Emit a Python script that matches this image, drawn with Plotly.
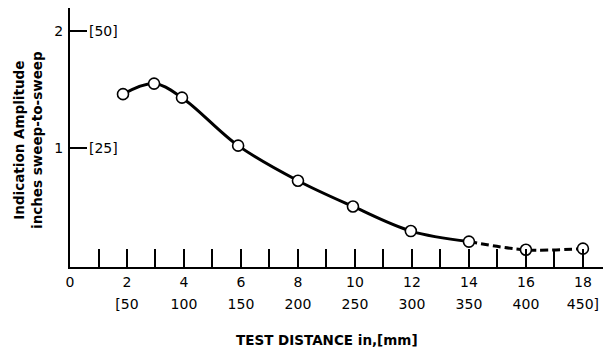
import plotly.graph_objects as go

# data
dist_in = [1.86, 2.95, 3.93, 5.9, 8.0, 9.93, 11.96, 14.0, 16.0, 18.0]
amplitude = [1.46, 1.55, 1.43, 1.02, 0.72, 0.50, 0.29, 0.20, 0.13, 0.14]
solid_n = 8  # points 0..7 on solid curve, 7..9 on dashed extrapolation

x_ticks = list(range(0, 19))
x_labels_in = [str(v) if v % 2 == 0 else "" for v in x_ticks]
mm_ticks = [2, 4, 6, 8, 10, 12, 14, 16, 18]
mm_labels = ["[50", "100", "150", "200", "250", "300", "350", "400", "450]"]
y_ticks = [1, 2]
y_labels = ["1", "2"]
y_mm_labels = ["[25]", "[50]"]

FONT = "DejaVu Sans"

fig = go.Figure()
fig.add_trace(go.Scatter(x=dist_in[:solid_n], y=amplitude[:solid_n], mode="lines",
                         line=dict(color="black", width=3, shape="spline", smoothing=1.0),
                         hoverinfo="skip", showlegend=False))
fig.add_trace(go.Scatter(x=dist_in[solid_n - 1:], y=amplitude[solid_n - 1:], mode="lines",
                         line=dict(color="black", width=3, dash="8px,4px", shape="spline"),
                         hoverinfo="skip", showlegend=False))
fig.add_trace(go.Scatter(x=dist_in, y=amplitude, mode="markers",
                         marker=dict(symbol="circle", size=11, color="white",
                                     line=dict(color="black", width=1.6)),
                         showlegend=False))
# invisible trace to anchor the mm axis
fig.add_trace(go.Scatter(x=[mm_ticks[0]], y=[0], xaxis="x2", mode="markers",
                         marker=dict(opacity=0), hoverinfo="skip", showlegend=False))

for yv, lab in zip(y_ticks, y_mm_labels):
    fig.add_annotation(x=0.6, y=yv, xref="x", yref="y", text=lab, showarrow=False,
                       xanchor="left", yanchor="middle",
                       font=dict(family=FONT, size=14, color="black"))

# page is offset by the 8px body margin; figure coords = page coords - 8
W, H = 603, 348
L, R, T, B = 62, 3, 0, 89
pw, ph = W - L - R, H - T - B

fig.add_annotation(x=(28 - 8 - L) / pw, y=1 - (140 - 8 - T) / ph, xref="paper", yref="paper",
                   text="<b>Indication Amplitude<br>inches sweep-to-sweep</b>",
                   textangle=-90, showarrow=False, xanchor="center", yanchor="middle",
                   font=dict(family=FONT, size=13.5, color="black"))
fig.add_annotation(x=(327 - 8 - L) / pw, y=1 - (340 - 8 - T) / ph, xref="paper", yref="paper",
                   text="<b>TEST DISTANCE in,[mm]</b>", showarrow=False,
                   xanchor="center", yanchor="middle",
                   font=dict(family=FONT, size=13.5, color="black"))

xr = [0, 18.88]
fig.update_layout(
    width=W, height=H,
    margin=dict(l=L, r=R, t=T, b=B),
    paper_bgcolor="white", plot_bgcolor="white",
    font=dict(family=FONT, size=14, color="black"),
    xaxis=dict(range=xr, tickvals=x_ticks, ticktext=x_labels_in, ticks="inside",
               ticklen=18, tickwidth=2, tickcolor="black", showline=True,
               linecolor="black", linewidth=2, showgrid=False, zeroline=False,
               ticklabelstandoff=1, automargin=False),
    xaxis2=dict(range=xr, overlaying="x", anchor="y", side="bottom",
                tickvals=mm_ticks, ticktext=mm_labels, ticks="", showline=False,
                showgrid=False, zeroline=False, ticklabelstandoff=27,
                automargin=False),
    yaxis=dict(range=[-0.017, 2.196], tickvals=y_ticks, ticktext=y_labels,
               ticks="inside", ticklen=17, tickwidth=2, tickcolor="black",
               showline=True, linecolor="black", linewidth=2, showgrid=False,
               zeroline=False, ticklabelstandoff=2, automargin=False),
)

fig.write_html("out.html")
